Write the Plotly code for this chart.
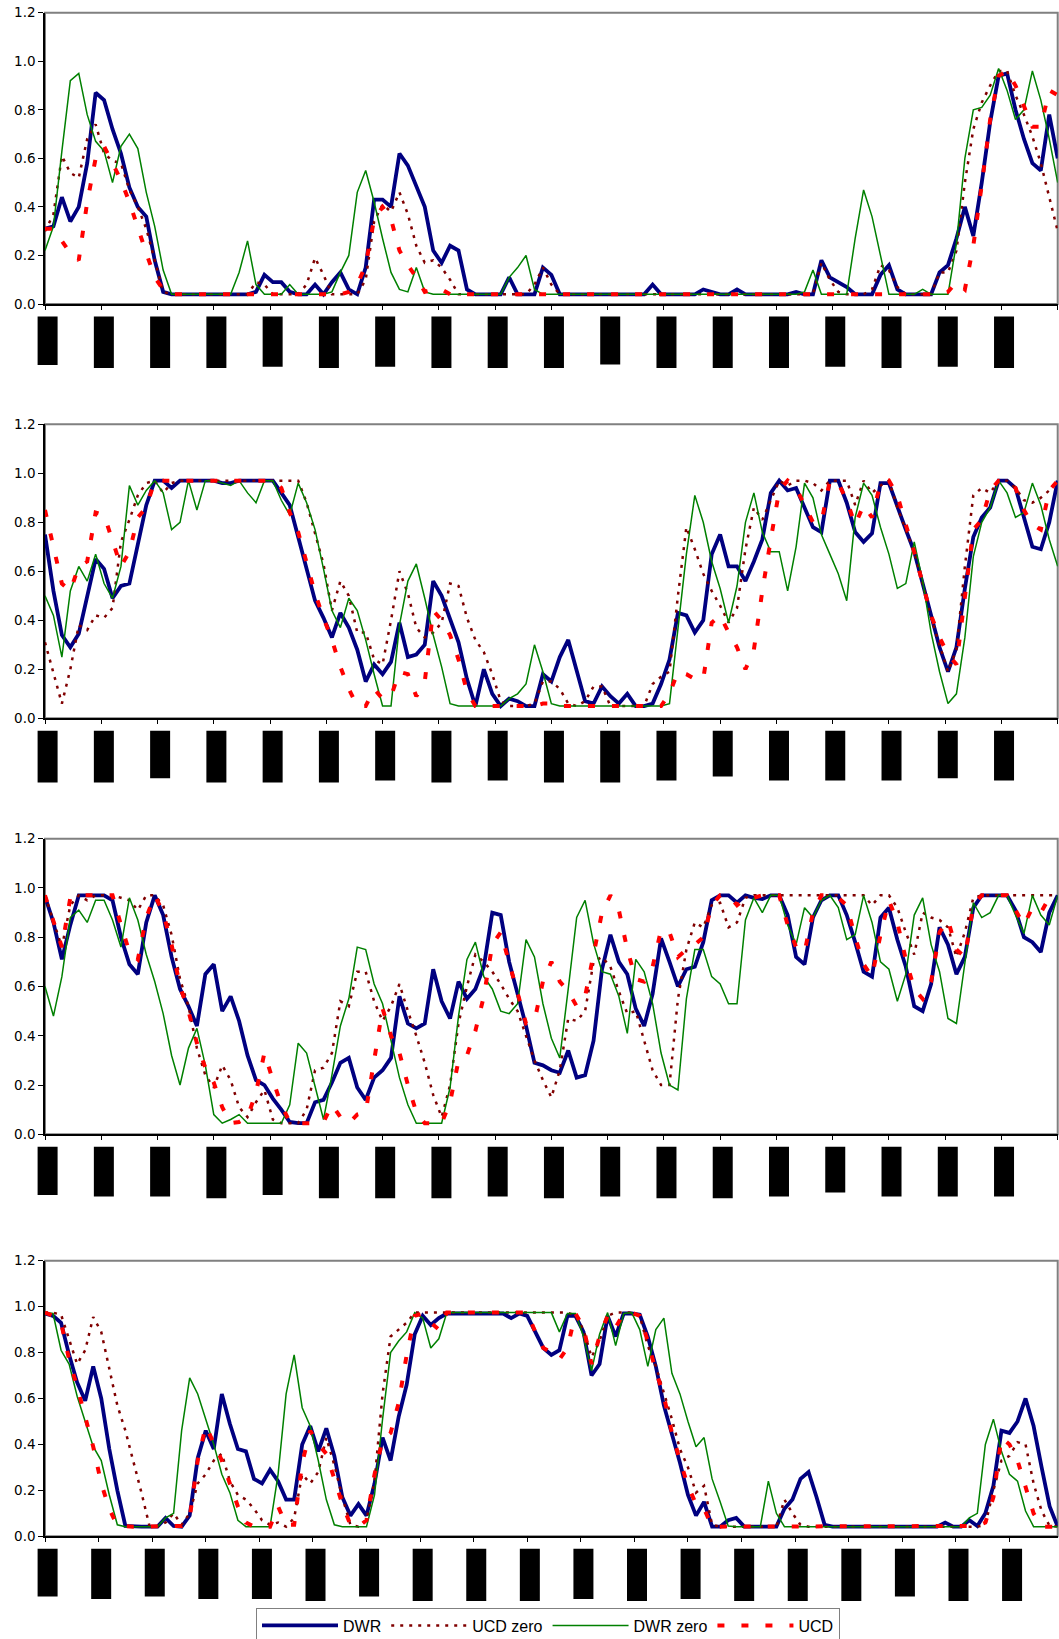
import plotly.graph_objects as go

days_a = list(range(0, 361, 3))   # panels 1-3 (axis 0..360)
days_b = list(range(0, 379, 3))   # panel 4 (axis 0..378)
tick_days_a = list(range(0, 361, 20))
tick_days_b = list(range(0, 361, 20))
y_ticks = [0.0, 0.2, 0.4, 0.6, 0.8, 1.0, 1.2]
series_names = ["DWR", "UCD zero", "DWR zero", "UCD"]

p1_dwr = [0.31,0.32,0.44,0.34,0.40,0.58,0.87,0.84,0.72,0.62,
          0.48,0.40,0.36,0.18,0.05,0.04,0.04,0.04,0.04,0.04,
          0.04,0.04,0.04,0.04,0.04,0.05,0.12,0.09,0.09,0.05,
          0.04,0.04,0.08,0.04,0.09,0.13,0.06,0.04,0.15,0.43,
          0.43,0.40,0.62,0.57,0.48,0.40,0.22,0.17,0.24,0.22,
          0.06,0.04,0.04,0.04,0.04,0.11,0.04,0.04,0.04,0.15,
          0.12,0.04,0.04,0.04,0.04,0.04,0.04,0.04,0.04,0.04,
          0.04,0.04,0.08,0.04,0.04,0.04,0.04,0.04,0.06,0.05,
          0.04,0.04,0.06,0.04,0.04,0.04,0.04,0.04,0.04,0.05,
          0.04,0.04,0.18,0.11,0.09,0.07,0.04,0.04,0.04,0.12,
          0.16,0.06,0.04,0.04,0.04,0.04,0.13,0.16,0.27,0.40,
          0.28,0.50,0.75,0.94,0.95,0.80,0.68,0.58,0.55,0.78,
          0.60]
p1_ucd_zero = [0.30,0.37,0.61,0.54,0.52,0.68,0.74,0.62,0.59,0.58,
               0.47,0.40,0.31,0.18,0.05,0.04,0.04,0.04,0.04,0.04,
               0.04,0.04,0.04,0.04,0.04,0.09,0.08,0.04,0.04,0.04,
               0.04,0.08,0.19,0.12,0.04,0.04,0.04,0.04,0.10,0.34,
               0.41,0.38,0.46,0.37,0.24,0.17,0.18,0.15,0.10,0.04,
               0.04,0.04,0.04,0.04,0.04,0.04,0.04,0.04,0.08,0.15,
               0.08,0.04,0.04,0.04,0.04,0.04,0.04,0.04,0.04,0.04,
               0.04,0.04,0.04,0.04,0.04,0.04,0.04,0.04,0.04,0.04,
               0.04,0.04,0.04,0.04,0.04,0.04,0.04,0.04,0.04,0.04,
               0.04,0.04,0.17,0.10,0.05,0.04,0.04,0.04,0.06,0.16,
               0.14,0.07,0.04,0.04,0.04,0.04,0.13,0.13,0.22,0.50,
               0.72,0.83,0.90,0.96,0.96,0.86,0.78,0.69,0.58,0.44,
               0.30]
p1_dwr_zero = [0.22,0.32,0.63,0.92,0.95,0.78,0.67,0.63,0.50,0.65,
               0.70,0.64,0.46,0.32,0.14,0.04,0.04,0.04,0.04,0.04,
               0.04,0.04,0.04,0.13,0.26,0.08,0.04,0.04,0.04,0.08,
               0.04,0.04,0.04,0.04,0.05,0.13,0.20,0.46,0.55,0.42,
               0.27,0.13,0.06,0.05,0.15,0.05,0.04,0.04,0.04,0.04,
               0.04,0.04,0.04,0.04,0.04,0.11,0.15,0.20,0.06,0.04,
               0.04,0.04,0.04,0.04,0.04,0.04,0.04,0.04,0.04,0.04,
               0.04,0.04,0.04,0.04,0.04,0.04,0.04,0.04,0.04,0.04,
               0.04,0.04,0.04,0.04,0.04,0.04,0.04,0.04,0.04,0.04,
               0.05,0.14,0.04,0.04,0.04,0.04,0.27,0.47,0.36,0.20,
               0.04,0.04,0.04,0.04,0.06,0.04,0.04,0.04,0.25,0.60,
               0.80,0.81,0.86,0.97,0.88,0.76,0.80,0.96,0.84,0.68,
               0.50]
p1_ucd = [0.31,0.31,0.26,0.21,0.18,0.42,0.60,0.65,0.58,0.51,
          0.42,0.31,0.21,0.11,0.06,0.04,0.04,0.04,0.04,0.04,
          0.04,0.04,0.04,0.04,0.04,0.04,0.04,0.04,0.04,0.04,
          0.04,0.04,0.04,0.04,0.04,0.04,0.05,0.08,0.16,0.35,
          0.40,0.35,0.22,0.16,0.11,0.05,0.06,0.06,0.04,0.04,
          0.04,0.04,0.04,0.04,0.04,0.04,0.04,0.04,0.04,0.04,
          0.04,0.04,0.04,0.04,0.04,0.04,0.04,0.04,0.04,0.04,
          0.04,0.04,0.04,0.04,0.04,0.04,0.04,0.04,0.04,0.04,
          0.04,0.04,0.04,0.04,0.04,0.04,0.04,0.04,0.04,0.04,
          0.04,0.04,0.04,0.04,0.04,0.04,0.04,0.04,0.04,0.04,
          0.04,0.04,0.04,0.04,0.04,0.04,0.04,0.05,0.09,0.06,
          0.24,0.49,0.76,0.94,0.96,0.90,0.81,0.73,0.73,0.88,
          0.86]

p2_dwr = [0.75,0.52,0.34,0.29,0.345,0.50,0.65,0.61,0.49,0.54,
          0.55,0.71,0.87,0.97,0.97,0.94,0.97,0.97,0.97,0.97,
          0.97,0.96,0.96,0.97,0.97,0.97,0.97,0.97,0.92,0.87,
          0.74,0.61,0.48,0.41,0.33,0.43,0.37,0.28,0.15,0.22,
          0.18,0.23,0.39,0.25,0.26,0.30,0.56,0.50,0.41,0.31,
          0.16,0.05,0.20,0.10,0.05,0.08,0.07,0.05,0.05,0.18,
          0.15,0.25,0.32,0.20,0.07,0.06,0.13,0.09,0.06,0.10,
          0.05,0.05,0.06,0.14,0.24,0.43,0.42,0.35,0.40,0.67,
          0.75,0.62,0.62,0.56,0.64,0.73,0.92,0.97,0.93,0.94,
          0.86,0.78,0.76,0.97,0.97,0.88,0.76,0.72,0.755,0.96,
          0.96,0.86,0.77,0.68,0.55,0.41,0.29,0.19,0.29,0.53,
          0.74,0.82,0.86,0.97,0.97,0.94,0.82,0.70,0.69,0.80,
          0.97]
p2_ucd_zero = [0.31,0.18,0.06,0.20,0.38,0.36,0.42,0.41,0.45,0.72,
               0.81,0.91,0.96,0.97,0.92,0.96,0.97,0.97,0.97,0.97,
               0.97,0.97,0.97,0.97,0.97,0.97,0.97,0.97,0.97,0.97,
               0.97,0.88,0.76,0.63,0.44,0.56,0.50,0.35,0.35,0.24,
               0.22,0.40,0.60,0.51,0.37,0.33,0.35,0.39,0.55,0.54,
               0.41,0.32,0.27,0.18,0.07,0.05,0.05,0.05,0.06,0.15,
               0.15,0.12,0.06,0.05,0.07,0.13,0.13,0.05,0.05,0.05,
               0.05,0.05,0.14,0.17,0.19,0.50,0.78,0.69,0.59,0.52,
               0.46,0.39,0.45,0.69,0.86,0.81,0.89,0.97,0.95,0.97,
               0.97,0.96,0.93,0.97,0.97,0.97,0.87,0.97,0.92,0.95,
               0.97,0.86,0.77,0.68,0.55,0.41,0.30,0.19,0.28,0.62,
               0.91,0.94,0.92,0.97,0.97,0.94,0.89,0.88,0.90,0.93,
               0.97]
p2_dwr_zero = [0.50,0.42,0.25,0.52,0.62,0.56,0.67,0.55,0.49,0.62,
               0.95,0.87,0.93,0.97,0.92,0.77,0.80,0.97,0.85,0.97,
               0.97,0.96,0.95,0.97,0.92,0.88,0.97,0.97,0.89,0.83,
               0.96,0.88,0.77,0.61,0.44,0.37,0.49,0.44,0.32,0.18,
               0.05,0.05,0.38,0.56,0.63,0.49,0.34,0.21,0.06,0.05,
               0.05,0.05,0.05,0.05,0.05,0.08,0.10,0.14,0.30,0.19,
               0.06,0.05,0.05,0.05,0.05,0.05,0.05,0.05,0.05,0.05,
               0.05,0.05,0.05,0.05,0.06,0.37,0.67,0.91,0.80,0.64,
               0.53,0.39,0.54,0.80,0.92,0.76,0.68,0.68,0.52,0.70,
               0.96,0.90,0.75,0.67,0.59,0.48,0.82,0.96,0.91,0.78,
               0.67,0.53,0.55,0.72,0.56,0.35,0.19,0.06,0.10,0.33,
               0.66,0.80,0.86,0.97,0.92,0.82,0.84,0.96,0.87,0.73,
               0.62]
p2_ucd = [0.85,0.70,0.55,0.52,0.62,0.64,0.84,0.83,0.73,0.62,
          0.68,0.82,0.86,0.97,0.97,0.97,0.97,0.97,0.97,0.97,
          0.97,0.97,0.97,0.97,0.97,0.97,0.97,0.97,0.94,0.84,
          0.76,0.64,0.51,0.41,0.32,0.21,0.12,0.05,0.05,0.12,
          0.08,0.09,0.19,0.18,0.09,0.15,0.44,0.40,0.34,0.24,
          0.11,0.05,0.05,0.05,0.05,0.05,0.05,0.05,0.05,0.06,
          0.06,0.05,0.05,0.05,0.05,0.05,0.05,0.05,0.05,0.05,
          0.05,0.05,0.05,0.05,0.10,0.19,0.18,0.16,0.16,0.39,
          0.42,0.35,0.29,0.20,0.28,0.52,0.73,0.93,0.97,0.94,
          0.87,0.80,0.80,0.97,0.96,0.89,0.79,0.87,0.82,0.96,
          0.97,0.91,0.79,0.68,0.55,0.42,0.33,0.26,0.22,0.50,
          0.77,0.81,0.93,0.97,0.97,0.94,0.85,0.79,0.77,0.93,
          0.97]

p3_dwr = [0.965,0.86,0.71,0.85,0.97,0.97,0.97,0.97,0.95,0.80,
          0.69,0.65,0.86,0.97,0.89,0.72,0.59,0.52,0.44,0.65,
          0.69,0.50,0.56,0.46,0.32,0.22,0.20,0.145,0.10,0.05,
          0.045,0.045,0.13,0.14,0.21,0.29,0.31,0.19,0.14,0.23,
          0.26,0.31,0.56,0.45,0.43,0.45,0.67,0.54,0.47,0.62,
          0.55,0.59,0.68,0.90,0.89,0.70,0.57,0.44,0.29,0.28,
          0.26,0.25,0.34,0.23,0.24,0.38,0.67,0.81,0.70,0.65,
          0.51,0.44,0.57,0.795,0.70,0.60,0.67,0.68,0.78,0.95,
          0.97,0.97,0.94,0.97,0.96,0.955,0.97,0.97,0.89,0.72,
          0.69,0.88,0.95,0.97,0.97,0.89,0.78,0.66,0.64,0.88,
          0.92,0.79,0.68,0.52,0.50,0.61,0.84,0.77,0.65,0.72,
          0.92,0.97,0.97,0.97,0.97,0.91,0.80,0.78,0.74,0.90,
          0.97]
p3_ucd_zero = [0.97,0.86,0.76,0.93,0.97,0.95,0.97,0.97,0.97,0.96,
               0.95,0.91,0.97,0.97,0.93,0.81,0.63,0.52,0.35,0.24,
               0.19,0.28,0.22,0.11,0.07,0.13,0.18,0.06,0.045,0.045,
               0.045,0.10,0.26,0.27,0.33,0.54,0.52,0.66,0.66,0.54,
               0.46,0.52,0.61,0.50,0.40,0.29,0.16,0.07,0.20,0.45,
               0.60,0.73,0.70,0.66,0.61,0.55,0.50,0.40,0.30,0.22,
               0.15,0.26,0.47,0.46,0.50,0.70,0.72,0.68,0.58,0.49,
               0.50,0.38,0.26,0.20,0.20,0.55,0.75,0.86,0.84,0.93,
               0.94,0.84,0.86,0.96,0.97,0.97,0.97,0.97,0.97,0.97,
               0.97,0.97,0.97,0.97,0.97,0.97,0.97,0.97,0.93,0.97,
               0.97,0.92,0.82,0.73,0.90,0.88,0.87,0.84,0.72,0.82,
               0.96,0.97,0.97,0.97,0.97,0.97,0.97,0.97,0.97,0.97,
               0.97]
p3_dwr_zero = [0.60,0.48,0.64,0.88,0.91,0.86,0.95,0.95,0.87,0.76,
               0.96,0.87,0.73,0.62,0.49,0.32,0.20,0.35,0.43,0.28,
               0.08,0.045,0.06,0.08,0.045,0.045,0.045,0.045,0.045,0.12,
               0.37,0.33,0.20,0.06,0.24,0.44,0.55,0.76,0.75,0.61,
               0.53,0.38,0.23,0.12,0.045,0.045,0.045,0.045,0.19,0.48,
               0.71,0.78,0.64,0.59,0.50,0.49,0.53,0.79,0.72,0.53,
               0.39,0.31,0.59,0.88,0.95,0.775,0.66,0.65,0.56,0.41,
               0.71,0.66,0.53,0.33,0.20,0.18,0.55,0.75,0.75,0.64,
               0.61,0.53,0.53,0.87,0.96,0.90,0.97,0.97,0.85,0.77,
               0.92,0.88,0.95,0.97,0.92,0.79,0.81,0.97,0.86,0.70,
               0.67,0.54,0.65,0.89,0.96,0.77,0.66,0.47,0.45,0.70,
               0.94,0.88,0.90,0.97,0.97,0.89,0.815,0.97,0.89,0.85,
               0.97]
p3_ucd = [0.97,0.86,0.76,0.96,0.97,0.97,0.97,0.97,0.97,0.85,
          0.74,0.71,0.88,0.97,0.90,0.77,0.60,0.50,0.37,0.27,
          0.21,0.11,0.045,0.05,0.07,0.17,0.33,0.22,0.12,0.05,
          0.045,0.045,0.045,0.05,0.12,0.07,0.045,0.08,0.09,0.30,
          0.51,0.40,0.33,0.20,0.09,0.045,0.045,0.045,0.13,0.30,
          0.32,0.42,0.56,0.77,0.82,0.70,0.58,0.45,0.46,0.62,
          0.70,0.62,0.58,0.52,0.56,0.74,0.90,0.97,0.91,0.75,
          0.63,0.62,0.68,0.83,0.82,0.72,0.75,0.77,0.80,0.93,
          0.97,0.97,0.93,0.96,0.96,0.97,0.97,0.97,0.85,0.76,
          0.74,0.90,0.97,0.97,0.96,0.93,0.80,0.69,0.64,0.81,
          0.95,0.86,0.71,0.59,0.55,0.62,0.82,0.87,0.75,0.72,
          0.93,0.97,0.97,0.97,0.97,0.91,0.85,0.92,0.90,0.96,
          0.97]

p4_dwr = [0.97,0.96,0.93,0.79,0.67,0.59,0.74,0.60,0.38,0.20,
          0.045,0.042,0.042,0.042,0.042,0.08,0.045,0.042,0.09,0.34,
          0.46,0.38,0.62,0.49,0.38,0.37,0.25,0.23,0.29,0.24,
          0.16,0.16,0.40,0.48,0.37,0.47,0.35,0.17,0.09,0.14,
          0.09,0.23,0.43,0.33,0.52,0.66,0.88,0.96,0.92,0.95,
          0.97,0.97,0.97,0.97,0.97,0.97,0.97,0.97,0.95,0.97,
          0.96,0.89,0.82,0.79,0.81,0.96,0.96,0.89,0.70,0.75,
          0.96,0.87,0.97,0.97,0.965,0.87,0.74,0.57,0.45,0.32,
          0.18,0.09,0.15,0.042,0.042,0.07,0.08,0.042,0.042,0.042,
          0.042,0.042,0.12,0.16,0.25,0.28,0.17,0.05,0.042,0.042,
          0.042,0.042,0.042,0.042,0.042,0.042,0.042,0.042,0.042,0.042,
          0.042,0.042,0.06,0.042,0.042,0.07,0.045,0.10,0.22,0.46,
          0.45,0.50,0.60,0.48,0.30,0.13,0.042]
p4_ucd_zero = [0.974,0.974,0.965,0.86,0.75,0.81,0.955,0.89,0.73,0.57,
               0.46,0.33,0.19,0.045,0.042,0.06,0.10,0.05,0.10,0.23,
               0.27,0.33,0.36,0.24,0.18,0.16,0.12,0.07,0.05,0.06,
               0.042,0.08,0.27,0.23,0.28,0.43,0.31,0.17,0.05,0.042,
               0.07,0.24,0.62,0.87,0.90,0.93,0.974,0.974,0.974,0.974,
               0.974,0.974,0.974,0.974,0.974,0.974,0.974,0.974,0.974,0.974,
               0.974,0.974,0.974,0.974,0.974,0.974,0.96,0.90,0.78,0.85,
               0.96,0.974,0.974,0.974,0.96,0.83,0.74,0.63,0.51,0.38,
               0.30,0.19,0.22,0.05,0.042,0.042,0.042,0.042,0.042,0.042,
               0.042,0.042,0.16,0.10,0.05,0.042,0.042,0.042,0.042,0.042,
               0.042,0.042,0.042,0.042,0.042,0.042,0.042,0.042,0.042,0.042,
               0.042,0.042,0.042,0.042,0.042,0.042,0.042,0.05,0.20,0.33,
               0.35,0.41,0.40,0.23,0.11,0.045,0.042]
p4_dwr_zero = [0.974,0.97,0.81,0.75,0.61,0.50,0.39,0.33,0.18,0.05,
               0.042,0.042,0.042,0.042,0.042,0.08,0.10,0.46,0.69,0.62,
               0.51,0.40,0.27,0.19,0.07,0.042,0.042,0.042,0.042,0.27,
               0.62,0.79,0.56,0.48,0.33,0.16,0.05,0.042,0.042,0.042,
               0.042,0.18,0.51,0.80,0.85,0.89,0.974,0.95,0.82,0.86,
               0.974,0.974,0.974,0.974,0.974,0.974,0.974,0.974,0.974,0.974,
               0.974,0.974,0.974,0.974,0.89,0.97,0.97,0.87,0.72,0.88,
               0.974,0.83,0.97,0.974,0.90,0.74,0.90,0.95,0.71,0.62,
               0.50,0.39,0.43,0.25,0.15,0.045,0.042,0.042,0.042,0.042,
               0.24,0.10,0.042,0.042,0.042,0.042,0.042,0.042,0.042,0.042,
               0.042,0.042,0.042,0.042,0.042,0.042,0.042,0.042,0.042,0.042,
               0.042,0.042,0.042,0.042,0.042,0.08,0.10,0.40,0.51,0.37,
               0.27,0.24,0.11,0.042,0.042,0.042,0.042]
p4_ucd = [0.974,0.96,0.93,0.77,0.65,0.52,0.39,0.23,0.12,0.045,
          0.042,0.042,0.042,0.042,0.042,0.042,0.042,0.045,0.08,0.33,
          0.48,0.40,0.33,0.23,0.13,0.06,0.042,0.042,0.042,0.13,
          0.05,0.05,0.32,0.46,0.40,0.36,0.25,0.14,0.05,0.042,
          0.07,0.27,0.42,0.45,0.58,0.79,0.96,0.97,0.93,0.90,
          0.974,0.974,0.974,0.974,0.974,0.974,0.974,0.974,0.974,0.974,
          0.974,0.89,0.82,0.80,0.77,0.82,0.97,0.91,0.75,0.87,
          0.96,0.91,0.97,0.974,0.96,0.85,0.72,0.61,0.45,0.33,
          0.22,0.14,0.12,0.042,0.042,0.042,0.042,0.042,0.042,0.042,
          0.042,0.042,0.042,0.042,0.042,0.042,0.042,0.042,0.042,0.042,
          0.042,0.042,0.042,0.042,0.042,0.042,0.042,0.042,0.042,0.042,
          0.042,0.042,0.042,0.042,0.042,0.042,0.045,0.06,0.17,0.43,
          0.40,0.33,0.21,0.10,0.042,0.042,0.042]

# ---------------- styling / layout (not data) ----------------
W, H = 1059, 1639
X_DOM = [45.0 / W, 1057.7 / W]
PANEL_PX = [(12.7, 304.0), (424.3, 718.3), (838.7, 1134.3), (1260.7, 1536.3)]
# lengths (px below axis) of the black label blocks under each tick
BLOCK_BOTTOMS = [
    [61, 64, 64, 64, 62.7, 64, 62.7, 64, 64, 64, 60.5, 64, 64, 64, 62.7, 64, 62.7, 64],
    [64.3, 64.3, 60, 64.3, 64.3, 64.3, 62.3, 64.3, 62.3, 64.3, 64.3, 62.3, 58.3, 62.3, 62.3, 62.3, 60, 62.3],
    [60.7, 62.3, 62.3, 64, 60.7, 64, 64, 64, 62.3, 64, 62.3, 64, 64, 62.3, 58.3, 62.3, 62.3, 62.3],
    [60.3, 62.7, 60.3, 62.7, 62.7, 64.7, 60.3, 64.7, 64.7, 64.7, 62.7, 64.7, 62.7, 64.7, 64.7, 64.7, 60.3, 64.7, 64.7],
]
STYLES = [
    dict(color="#000080", width=3.8, dash="solid"),
    dict(color="#800000", width=2.5, dash="3px,6px"),
    dict(color="#008000", width=1.5, dash="solid"),
    dict(color="#FF0000", width=4, dash="7px,17px"),
]
FONT = "DejaVu Sans, Verdana, sans-serif"

panels = [
    dict(x=days_a, xmax=360, ticks=tick_days_a, ys=[p1_dwr, p1_ucd_zero, p1_dwr_zero, p1_ucd]),
    dict(x=days_a, xmax=360, ticks=tick_days_a, ys=[p2_dwr, p2_ucd_zero, p2_dwr_zero, p2_ucd]),
    dict(x=days_a, xmax=360, ticks=tick_days_a, ys=[p3_dwr, p3_ucd_zero, p3_dwr_zero, p3_ucd]),
    dict(x=days_b, xmax=378, ticks=tick_days_b, ys=[p4_dwr, p4_ucd_zero, p4_dwr_zero, p4_ucd]),
]

fig = go.Figure()
layout = dict(
    width=W, height=H, autosize=False,
    margin=dict(l=0, r=0, t=0, b=0, pad=0, autoexpand=False),
    paper_bgcolor="white", plot_bgcolor="white",
    font=dict(family=FONT, size=13, color="black"),
    showlegend=True,
    legend=dict(orientation="h", x=256 / W, xanchor="left", y=1 - 1607.5 / H, yanchor="top",
                bordercolor="#808080", borderwidth=1, bgcolor="white",
                font=dict(family="Liberation Sans, Arial, sans-serif", size=16, color="black"),
                itemwidth=76, tracegroupgap=0, itemclick=False),
)
shapes = []

for i, p in enumerate(panels):
    n = i + 1
    xa = "x" if n == 1 else f"x{n}"
    ya = "y" if n == 1 else f"y{n}"
    top, bot = PANEL_PX[i]
    ydom = [1 - bot / H, 1 - top / H]
    for k, (name, ys) in enumerate(zip(series_names, p["ys"])):
        assert len(ys) == len(p["x"]), (n, name, len(ys), len(p["x"]))
        st = STYLES[k]
        fig.add_trace(go.Scatter(
            x=p["x"], y=ys, mode="lines", name=name,
            line=dict(color=st["color"], width=st["width"], dash=st["dash"]),
            xaxis=xa, yaxis=ya, showlegend=(n == 1), hoverinfo="skip",
        ))
    layout["xaxis" if n == 1 else f"xaxis{n}"] = dict(
        domain=X_DOM, anchor=ya, range=[0, p["xmax"]], automargin=False,
        tickmode="array", tickvals=p["ticks"], showticklabels=False,
        ticks="outside", ticklen=4, tickwidth=1, tickcolor="black",
        showline=True, linecolor="black", linewidth=1.5,
        showgrid=False, zeroline=False, fixedrange=True,
    )
    layout["yaxis" if n == 1 else f"yaxis{n}"] = dict(
        domain=ydom, anchor=xa, range=[0, 1.2], automargin=False,
        tickmode="array", tickvals=y_ticks, tickformat=".1f",
        ticks="outside", ticklen=5, tickwidth=1, tickcolor="black",
        tickfont=dict(family=FONT, size=13.5, color="black"),
        showline=True, linecolor="black", linewidth=1.5,
        showgrid=False, zeroline=False, fixedrange=True,
    )
    # gray plot-area border
    shapes.append(dict(type="rect", xref=f"{xa} domain", yref=f"{ya} domain",
                       x0=0, x1=1, y0=0, y1=1, line=dict(color="#808080", width=2),
                       fillcolor="rgba(0,0,0,0)", layer="below"))
    # black label blocks under the ticks
    for t, L in zip(p["ticks"], BLOCK_BOTTOMS[i]):
        xp = X_DOM[0] + t / p["xmax"] * (X_DOM[1] - X_DOM[0])
        shapes.append(dict(type="rect", xref="paper", yref="paper",
                           xsizemode="pixel", ysizemode="pixel",
                           xanchor=xp, x0=-7.4, x1=12.6,
                           yanchor=ydom[0], y0=-12.5, y1=-L,
                           fillcolor="black", line=dict(width=0), layer="above"))

layout["shapes"] = shapes
fig.update_layout(**layout)
fig.write_html("out.html")
